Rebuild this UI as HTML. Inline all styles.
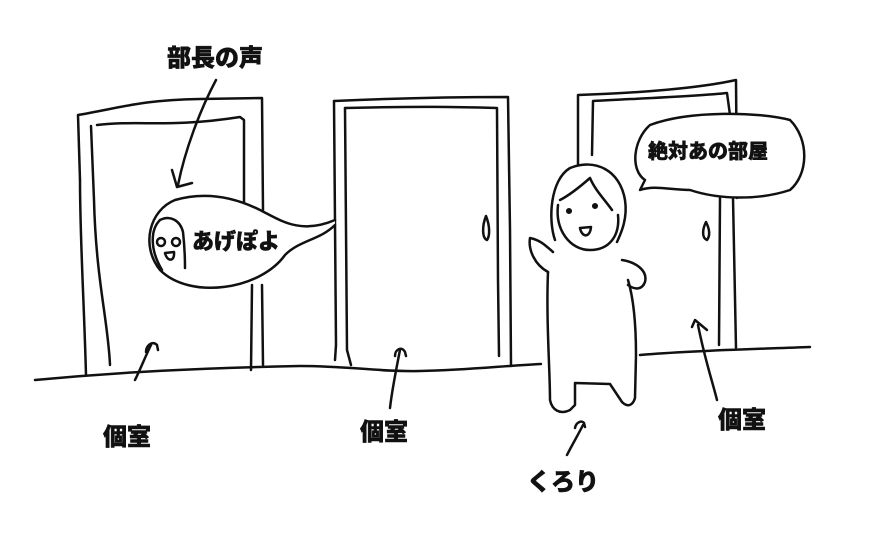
<!DOCTYPE html>
<html><head><meta charset="utf-8"><style>
html,body{margin:0;padding:0;background:#fff;}
svg{display:block}
text{font-family:"Liberation Sans","Noto Sans CJK JP",sans-serif;font-weight:900;fill:#111;stroke:#111;stroke-width:0.5}
</style></head><body>
<svg width="890" height="547" viewBox="0 0 890 547" xmlns="http://www.w3.org/2000/svg">
<g fill="none" stroke="#111" stroke-width="2.5" stroke-linecap="round" stroke-linejoin="round">
<path d="M35 380 C120 372 200 368 300 366 C350 366 380 372 420 371 C470 370 500 366 541 364"/>
<path d="M640 355 C700 350 760 349 810 347"/>
<path d="M80 180 L78 115 C120 108 140 100 200 99 L262 98 L263 210"/>
<path d="M86 375 C84 300 80 240 80 180"/>
<path d="M91 126 L94 200 C96 280 108 320 110 365"/>
<path d="M97 125 C140 120 170 128 240 117 L244 120 L244 210"/>
<path d="M252 285 L251 370"/>
<path d="M262 285 L263 365"/>
<path d="M334 101 C400 98 460 97 508 97 L510 230 L511 366"/>
<path d="M334 101 L336 345 L335 360"/>
<path d="M345 108 L347 350 L351 365"/>
<path d="M345 108 C420 106 460 107 497 108 L498 280 L499 356"/>
<path d="M486 216 C482 226 482 238 487 240 C490 236 490 226 486 216 Z"/>
<path d="M578 190 L578 95 C640 93 700 88 736 80 L737 198"/>
<path d="M592 155 L593 101 C650 98 700 96 727 93 L730 115"/>
<path d="M720 198 L719 345"/>
<path d="M733 198 L736 348"/>
<path d="M706 222 C702 230 702 238 707 240 C710 236 710 230 706 222 Z"/>
<path d="M555 240 C548 220 550 180 570 168 C595 158 620 170 625 200 C628 220 620 235 617 242" fill="#fff"/>
<path d="M560 200 C570 195 582 185 590 178 C595 190 605 200 612 210"/>
<path d="M558 205 C555 230 570 250 590 250 C610 250 620 235 618 215"/>
<circle cx="569" cy="211" r="1.8" fill="#111"/>
<circle cx="595" cy="206" r="1.8" fill="#111"/>
<path d="M580 228 C582 238 590 238 591 227 Z"/>
<path d="M553 252 C545 245 540 240 530 238 C528 250 535 265 548 272"/>
<path d="M548 272 C546 320 550 370 550 400 C552 410 560 415 570 410 L575 405 L575 383 L610 384 L622 402 C628 408 633 405 635 398 L636 355 C636 330 634 300 628 280"/>
<path d="M622 260 C635 262 648 270 645 282 C642 290 635 290 628 285"/>
<path d="M335 225 C320 240 300 240 285 255 C260 290 190 300 160 270 C140 245 150 210 175 200 C210 190 240 200 260 210 C280 220 300 235 335 220" fill="#fff"/>
<path d="M162 270 C150 250 150 230 160 220 C170 215 180 220 183 232 C185 250 185 262 185 268"/>
<circle cx="161" cy="242" r="4"/><circle cx="176" cy="242" r="4"/>
<path d="M165 253 C167 262 175 262 174 252 Z"/>
<path d="M645 180 C630 170 633 140 650 125 C690 110 760 112 790 120 C810 140 808 175 790 190 C760 200 720 200 690 190 C670 190 655 185 640 190 L645 180" fill="#fff"/>
<path d="M216 80 C200 110 185 150 178 185"/>
<path d="M172 170 L177 187 L192 183"/>
<path d="M135 380 C140 370 146 355 151 345"/>
<path d="M146 352 C146 346 152 340 157 345 L158 350"/>
<path d="M390 408 C392 390 396 370 400 350"/>
<path d="M395 356 C395 349 402 346 405 352 L406 356"/>
<path d="M567 455 C572 445 578 435 583 425"/>
<path d="M575 428 C576 422 582 420 584 423 L585 427"/>
<path d="M717 400 C712 380 705 360 698 325"/>
<path d="M692 327 L695 320 L707 330"/>
</g>
<text x="167" y="66" font-size="24">部長の声</text>
<text x="192" y="249" font-size="22">あげぽよ</text>
<text x="648" y="158" font-size="20">絶対あの部屋</text>
<text x="103" y="445" font-size="24">個室</text>
<text x="360" y="440" font-size="24">個室</text>
<text x="718" y="428" font-size="24">個室</text>
<text x="527" y="490" font-size="24">くろり</text>
</svg>
</body></html>
